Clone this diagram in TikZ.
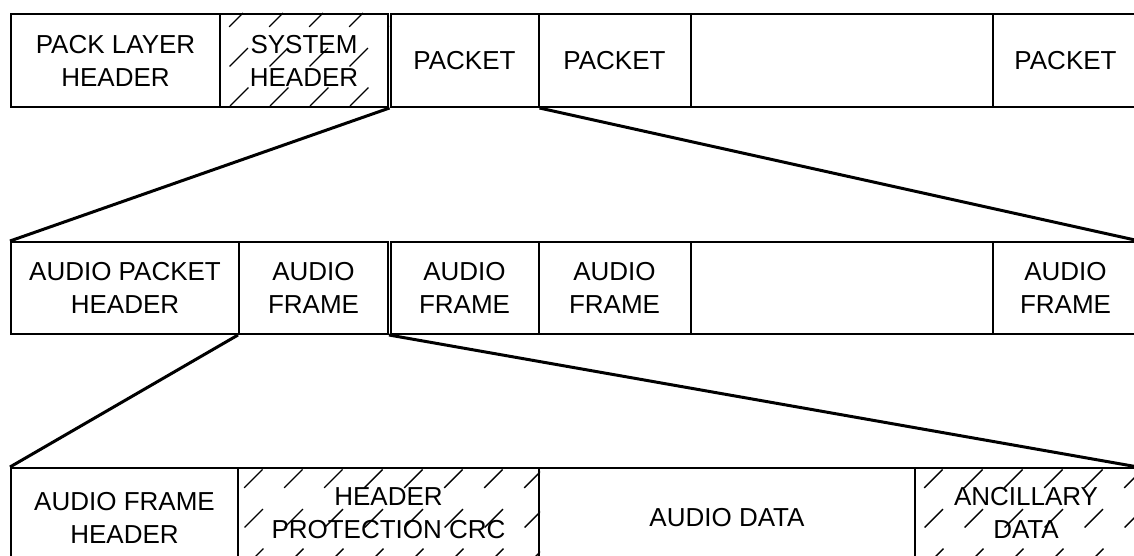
\documentclass[tikz,border=0pt]{standalone}
\usepackage{fontspec}
\setmainfont{Liberation Sans}
\usepackage{tikz}
\usetikzlibrary{positioning}

\begin{document}
\begin{tikzpicture}[
    x=1pt, y=-1pt,
    field/.style={rectangle, draw, line width=2pt, anchor=north west, inner sep=0pt, align=center, font=\fontsize{26}{33}\selectfont},
    link/.style={line width=3pt},
    hatch/.style={line width=1.4pt, dash pattern=on 26pt off 30pt}
]
\useasboundingbox (0,0) rectangle (1134,556);

% pack layer
\node[field, minimum width=209, minimum height=93] (packhdr) at (10,13) {PACK LAYER\\HEADER};
\node[field, minimum width=168, minimum height=93] (syshdr) at (219,13) {};
\node[field, minimum width=148, minimum height=93] (pkta) at (389.5,13) {PACKET};
\node[field, minimum width=152, minimum height=93] (pktb) at (537.5,13) {PACKET};
\node[field, minimum width=302, minimum height=93] (pktgap) at (689.5,13) {};
\node[field, minimum width=146, minimum height=93] (pktn) at (991.5,13) {PACKET};

% audio packet
\node[field, minimum width=228, minimum height=92] (aphdr) at (10,241) {AUDIO PACKET\\HEADER};
\node[field, minimum width=149, minimum height=92] (frma) at (238,241) {AUDIO\\FRAME};
\node[field, minimum width=148, minimum height=92] (frmb) at (389.5,241) {AUDIO\\FRAME};
\node[field, minimum width=152, minimum height=92] (frmc) at (537.5,241) {AUDIO\\FRAME};
\node[field, minimum width=302, minimum height=92] (frmgap) at (689.5,241) {};
\node[field, minimum width=146, minimum height=92] (frmn) at (991.5,241) {AUDIO\\FRAME};

% audio frame
\node[field, minimum width=227, minimum height=100] (afhdr) at (10,467) {AUDIO FRAME\\HEADER};
\node[field, minimum width=301, minimum height=100] (crc) at (237,467) {};
\node[field, minimum width=376, minimum height=100] (adata) at (538,467) {AUDIO DATA};
\node[field, minimum width=222, minimum height=100] (anc) at (914,467) {};

% hatching
\begin{scope}
\clip (syshdr.north west) rectangle (syshdr.south east);
\foreach \x in {110,150,...,400} \draw[hatch] (\x,106) -- ++(93,-93);
\end{scope}
\begin{scope}
\clip (crc.north west) rectangle (crc.south east);
\foreach \x in {125,165,...,550} \draw[hatch] (\x,567) -- ++(100,-100);
\end{scope}
\begin{scope}
\clip (anc.north west) rectangle (anc.south east);
\foreach \x in {805,845,...,1140} \draw[hatch] (\x,567) -- ++(100,-100);
\end{scope}

\node[align=center, font=\fontsize{26}{33}\selectfont] (systxt) at (syshdr.center) {SYSTEM\\HEADER};
\node[align=center, font=\fontsize{26}{33}\selectfont] (crctxt) at ([yshift=5]crc.center) {HEADER\\PROTECTION CRC};
\node[align=center, font=\fontsize{26}{33}\selectfont] (anctxt) at ([yshift=5]anc.center) {ANCILLARY\\DATA};

% expansions
\draw[link] (pkta.south west) -- (aphdr.north west);
\draw[link] (pkta.south east) -- (frmn.north east);
\draw[link] (frma.south west) -- (afhdr.north west);
\draw[link] (frma.south east) -- (anc.north east);

\end{tikzpicture}
\end{document}
